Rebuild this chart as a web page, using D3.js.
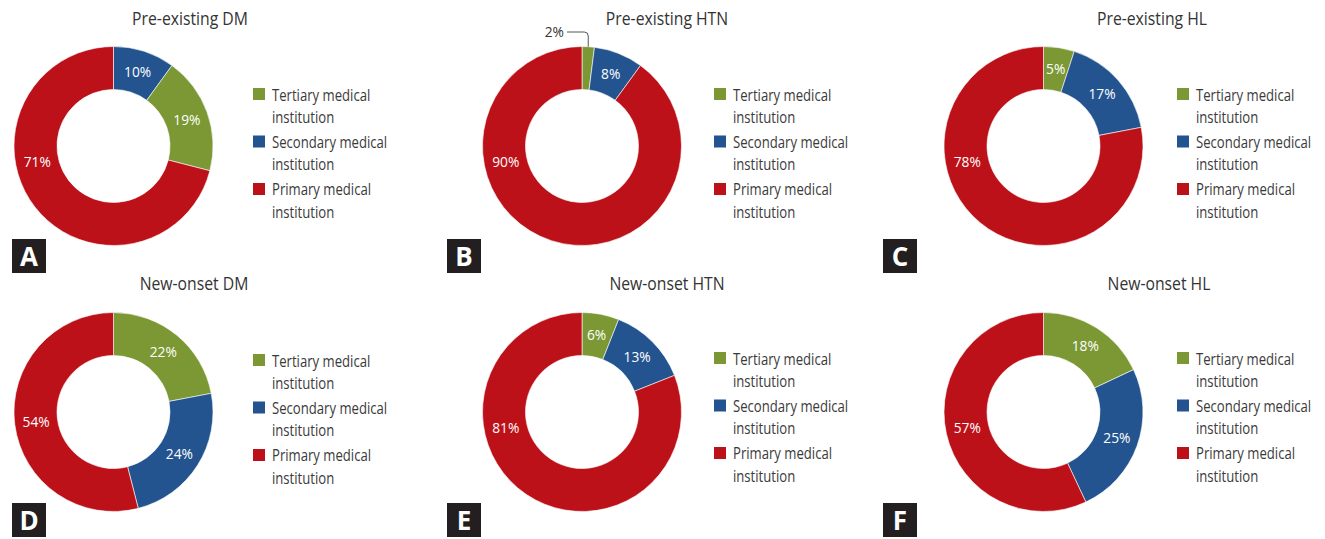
<!DOCTYPE html>
<html>
<head>
<meta charset="utf-8">
<script src="https://cdn.jsdelivr.net/npm/d3@7"></script>
<style>
  body { margin: 0; background: #fff; }
  svg text { font-family: "Open Sans", "Noto Sans", sans-serif; }
</style>
</head>
<body>
<svg id="chart" width="1325" height="539"></svg>
<script>
// chart data
var categories = ["Tertiary", "Secondary", "Primary"];
var legendLines = [
    ["Tertiary medical", "institution"],
    ["Secondary medical", "institution"],
    ["Primary medical", "institution"]
];
var panelTitles = ["Pre-existing DM", "Pre-existing HTN", "Pre-existing HL",
                   "New-onset DM", "New-onset HTN", "New-onset HL"];
var panelLetters = ["A", "B", "C", "D", "E", "F"];
var tertiary  = [19, 2, 5, 22, 6, 18];
var secondary = [10, 8, 17, 24, 13, 25];
var primary   = [71, 90, 78, 54, 81, 57];
// clockwise order of slices from 12 o'clock (panel A starts with secondary)
var sliceOrder = [
    ["Secondary", "Tertiary", "Primary"],
    ["Tertiary", "Secondary", "Primary"],
    ["Tertiary", "Secondary", "Primary"],
    ["Tertiary", "Secondary", "Primary"],
    ["Tertiary", "Secondary", "Primary"],
    ["Tertiary", "Secondary", "Primary"]
];

// layout
var colX = [113.5, 582, 1043.5];
var rowY = [146, 412];
var titleX = [190, 667, 1152, 194, 667, 1159];
var titleY = [25.5, 290];
var legendX = [253, 714, 1177];
var legendY = [88, 88, 88, 354, 352, 352];
var badgeX = [12, 447, 883];
var badgeY = [239, 503];
var outerR = 99.5, innerR = 56.5, labelR = 78;

var color = d3.scaleOrdinal()
    .domain(categories)
    .range(["#7b9834", "#23548f", "#bd111a"]);

var svg = d3.select('#chart');

// narrow text horizontally (the original face is narrower than Open Sans)
function addText(parent, x, y, k) {
    return parent.append('text')
        .attr('x', x / k)
        .attr('y', y)
        .attr('transform', 'scale(' + k + ',1)');
}

var pie = d3.pie().sort(null).value(function(d) { return d.value; });
var arc = d3.arc().innerRadius(innerR).outerRadius(outerR);

panelTitles.forEach(function(title, i) {
    var col = i % 3, row = Math.floor(i / 3);
    var values = { Tertiary: tertiary[i], Secondary: secondary[i], Primary: primary[i] };
    var data = sliceOrder[i].map(function(c) { return { cat: c, value: values[c] }; });

    addText(svg, titleX[i], titleY[row], 0.9)
        .attr('text-anchor', 'middle')
        .style('font-size', '17.5px')
        .style('fill', '#333')
        .text(title);

    var g = svg.append('g')
        .attr('transform', 'translate(' + colX[col] + ',' + rowY[row] + ')');

    var arcs = pie(data);

    g.selectAll('.slice')
        .data(arcs)
        .enter()
        .append('path')
        .attr('class', 'slice')
        .attr('d', arc)
        .style('fill', function(d) { return color(d.data.cat); })
        .style('stroke', '#fff')
        .style('stroke-width', 0.6);

    arcs.forEach(function(a) {
        var span = a.endAngle - a.startAngle;
        var mid = (a.startAngle + a.endAngle) / 2;
        var txt = a.data.value + '%';
        if (span < 0.2) {
            // tiny slice: callout outside with a leader
            var px = outerR * Math.sin(mid), py = -outerR * Math.cos(mid);
            var ly = -114;
            g.append('path')
                .attr('d', 'M' + px + ',' + py + 'L' + px + ',' + (ly + 4) +
                    'Q' + px + ',' + ly + ' ' + (px - 4) + ',' + ly + 'L-15,' + ly)
                .style('fill', 'none')
                .style('stroke', '#555')
                .style('stroke-width', 1);
            addText(g, -18, ly, 0.95)
                .attr('dy', '0.35em')
                .attr('text-anchor', 'end')
                .style('font-size', '14.5px')
                .style('fill', '#333')
                .text(txt);
            return;
        }
        if (span > Math.PI) mid = Math.max(mid, 258 * Math.PI / 180);
        addText(g, labelR * Math.sin(mid), -labelR * Math.cos(mid), 0.95)
            .attr('dy', '0.35em')
            .attr('text-anchor', 'middle')
            .style('font-size', '14.5px')
            .style('fill', '#fff')
            .text(txt);
    });

    // legend
    var lg = svg.append('g')
        .attr('transform', 'translate(' + legendX[col] + ',' + legendY[i] + ')');
    categories.forEach(function(c, k) {
        var y0 = k * 47.5;
        lg.append('rect')
            .attr('x', 0)
            .attr('y', y0)
            .attr('width', 12)
            .attr('height', 12)
            .style('fill', color(c));
        legendLines[k].forEach(function(line, j) {
            addText(lg, 19, y0 + 12.5 + j * 22.5, 0.82)
                .style('font-size', '16px')
                .style('fill', '#3a3a3a')
                .text(line);
        });
    });

    // panel letter badge
    svg.append('rect')
        .attr('x', badgeX[col])
        .attr('y', badgeY[row])
        .attr('width', 34)
        .attr('height', 34)
        .style('fill', '#231f20');
    svg.append('text')
        .attr('x', badgeX[col] + 17)
        .attr('y', badgeY[row] + 27)
        .attr('text-anchor', 'middle')
        .style('font-size', '26px')
        .style('font-weight', 'bold')
        .style('fill', '#fff')
        .text(panelLetters[i]);
});
</script>
</body>
</html>
